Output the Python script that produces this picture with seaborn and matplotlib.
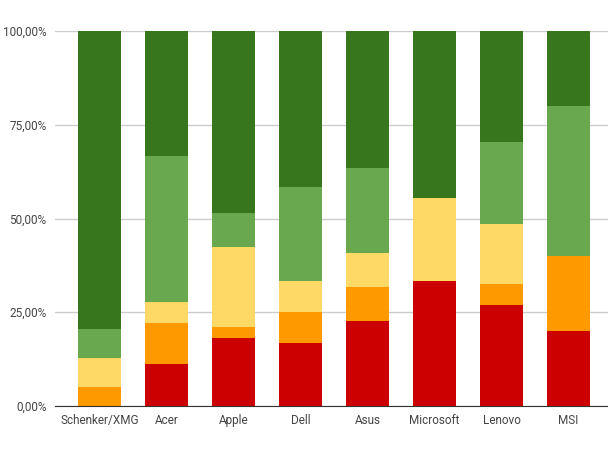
import numpy as np
import pandas as pd
import matplotlib.pyplot as plt
import seaborn as sns
from matplotlib.ticker import FuncFormatter

# Daten (Anteile in Prozent je Hersteller)
brands = ["Schenker/XMG", "Acer", "Apple", "Dell", "Asus", "Microsoft", "Lenovo", "MSI"]
red = [0.0, 11.1, 18.2, 16.7, 22.7, 33.3, 27.0, 20.0]
orange = [5.1, 11.1, 3.0, 8.3, 9.1, 0.0, 5.4, 20.0]
yellow = [7.7, 5.6, 21.2, 8.3, 9.1, 22.2, 16.2, 0.0]
light_green = [7.7, 38.9, 9.1, 25.0, 22.7, 0.0, 21.6, 40.0]
dark_green = [79.5, 33.3, 48.5, 41.7, 36.4, 44.4, 29.7, 20.0]

series = [red, orange, yellow, light_green, dark_green]
colors = ["#cc0000", "#ff9900", "#ffd966", "#6aa84f", "#38761d"]

df = pd.DataFrame({"brand": brands})
cum = np.cumsum(np.array(series), axis=0)
cum = cum / cum[-1] * 100

sns.set_style("white")
plt.rcParams["font.family"] = ["Roboto", "DejaVu Sans"]

fig = plt.figure(figsize=(6.08, 4.5), dpi=100)
ax = fig.add_axes([55 / 608, 1 - 406 / 450, 1 - 55 / 608, (406 - 31) / 450])

# von oben nach unten zeichnen, damit die Stapel sichtbar bleiben
for i in range(len(series) - 1, -1, -1):
    df["val"] = cum[i]
    sns.barplot(data=df, x="brand", y="val", color=colors[i], width=0.65,
                saturation=1, linewidth=0, edgecolor="none", ax=ax, zorder=3)

ax.set_ylim(0, 100)
ax.set_xlim(-0.667, 7.59)
ax.set_yticks([0, 25, 50, 75, 100])
ax.yaxis.set_major_formatter(FuncFormatter(lambda v, p: f"{v:.2f}".replace(".", ",") + "%"))
ax.grid(axis="y", color="#cccccc", linewidth=1, zorder=0)
ax.set_axisbelow(True)
for s in ["top", "right", "left"]:
    ax.spines[s].set_visible(False)
ax.spines["bottom"].set_color("#333333")
ax.spines["bottom"].set_zorder(5)
ax.tick_params(axis="both", length=0, labelsize=8.5, labelcolor="#444444", pad=6)
ax.set_xlabel("")
ax.set_ylabel("")

fig.savefig("out.png", dpi=100)
